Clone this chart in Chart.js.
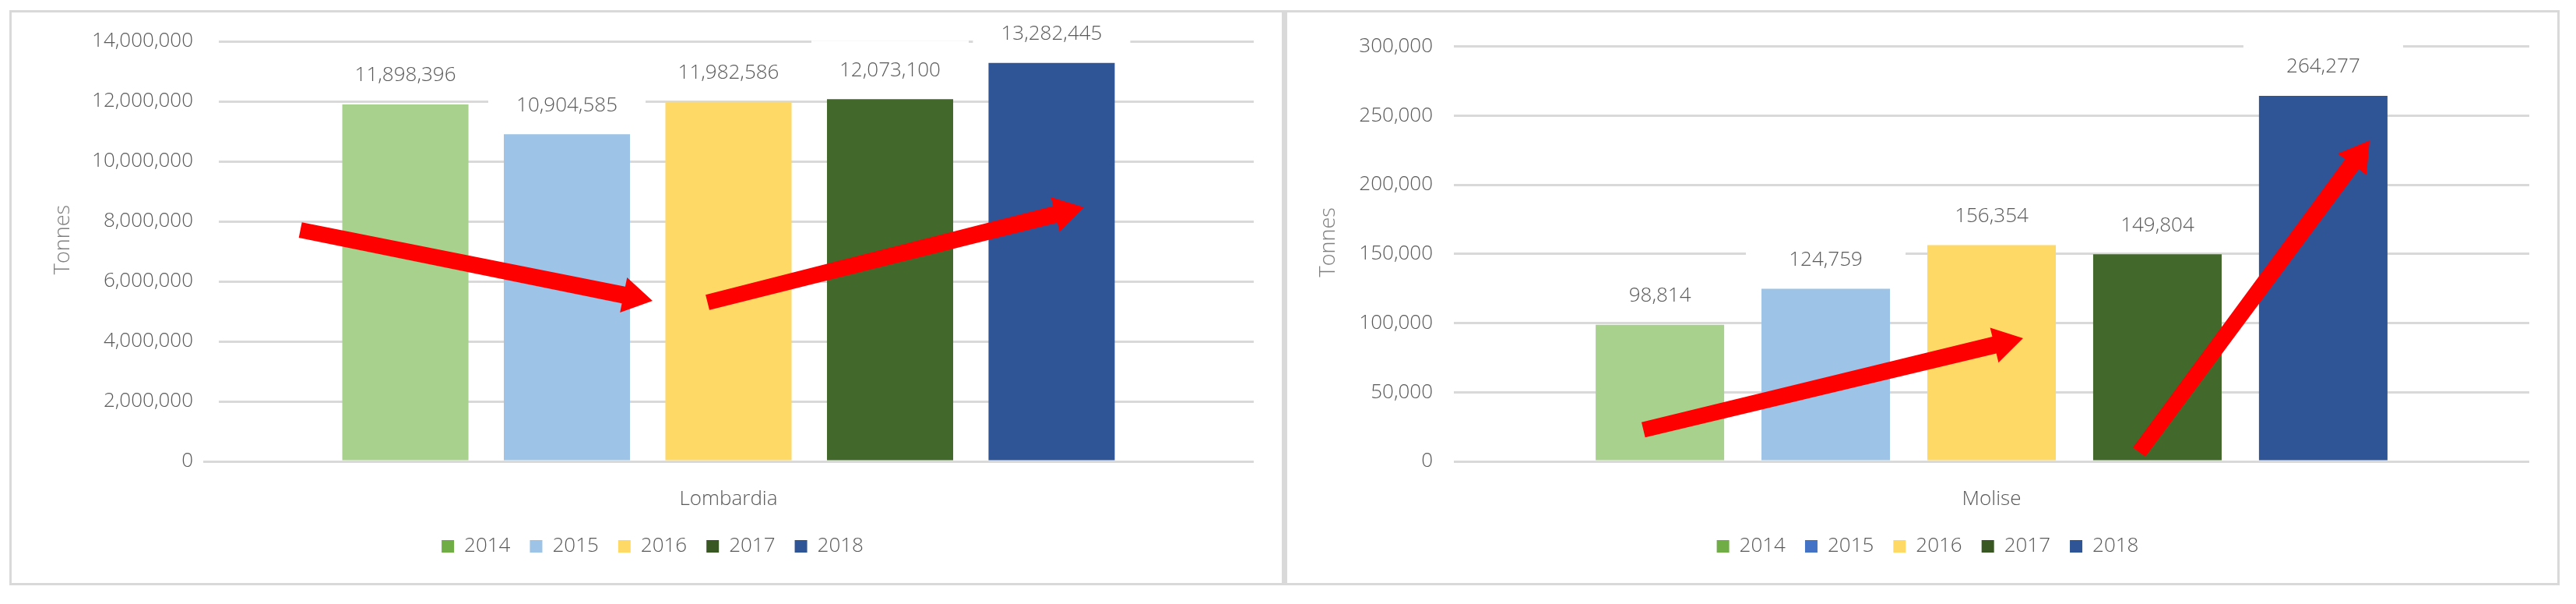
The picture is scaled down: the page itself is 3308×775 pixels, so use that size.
<!DOCTYPE html>
<html>
<head>
<meta charset="utf-8">
<script src="https://cdn.jsdelivr.net/npm/chart.js@4.4.1/dist/chart.umd.min.js"></script>
<style>
  html, body { margin: 0; padding: 0; background: #fff; }
  body { width: 3308px; height: 775px; position: relative; overflow: hidden; }
  .panel { position: absolute; box-sizing: border-box; border: 3px solid #d9d9d9; background: #fff; }
  #p1 { left: 12px; top: 13px; width: 1636px; height: 738px; border-right-width: 2px; }
  #p2 { left: 1647px; top: 13px; width: 1640px; height: 738px; border-left-width: 6px; }
  canvas { position: absolute; }
  #c1 { left: 16px; top: 17px; }
  #c2 { left: 1653px; top: 17px; }
</style>
</head>
<body>
<div class="panel" id="p1"></div>
<div class="panel" id="p2"></div>
<canvas id="c1" width="1628" height="730"></canvas>
<canvas id="c2" width="1631" height="730"></canvas>
<script>
const years = ['2014', '2015', '2016', '2017', '2018'];
const barColors = ['#A9D18E', '#9DC3E6', '#FFD966', '#43682B', '#2F5597'];

const lombardiaValues = [11898396, 10904585, 11982586, 12073100, 13282445];
const lombardiaTicks = [0, 2000000, 4000000, 6000000, 8000000, 10000000, 12000000, 14000000];
const lombardiaLegend = ['#70AD47', '#9DC3E6', '#FFD966', '#385723', '#2F5597'];
// red arrows: [from bar index, from value, to bar index, to value]
const lombardiaArrows = [
  [-0.65, 7710000, 1.53, 5350000],
  [1.87, 5300000, 4.2, 8470000]
];

const moliseValues = [98814, 124759, 156354, 149804, 264277];
const moliseTicks = [0, 50000, 100000, 150000, 200000, 250000, 300000];
const moliseLegend = ['#70AD47', '#4472C4', '#FFD966', '#385723', '#2F5597'];
const moliseArrows = [
  [-0.1, 22800, 2.19, 89100],
  [2.89, 6700, 4.28, 232000]
];

Chart.defaults.font.family = '"Open Sans", sans-serif';
Chart.defaults.font.weight = 300;

function drawArrow(ctx, x1, y1, x2, y2) {
  const ang = Math.atan2(y2 - y1, x2 - x1);
  const len = Math.hypot(x2 - x1, y2 - y1);
  ctx.save();
  ctx.translate(x1, y1);
  ctx.rotate(ang);
  ctx.beginPath();
  ctx.moveTo(0, -10);
  ctx.lineTo(len - 38, -11);
  ctx.lineTo(len - 38, -23);
  ctx.lineTo(len, 0);
  ctx.lineTo(len - 38, 23);
  ctx.lineTo(len - 38, 11);
  ctx.lineTo(0, 10);
  ctx.closePath();
  ctx.fillStyle = '#FF0000';
  ctx.fill();
  ctx.restore();
}

const gridMask = {
  id: 'gridMask',
  beforeDatasetsDraw(chart, args, opts) {
    if (!opts.width) return;
    const { left, top, bottom } = chart.chartArea;
    chart.ctx.fillStyle = '#fff';
    chart.ctx.fillRect(left, top - 3, opts.width, bottom - top);
  }
};

const valueLabels = {
  id: 'valueLabels',
  afterDatasetsDraw(chart) {
    const ctx = chart.ctx;
    ctx.save();
    ctx.font = '300 26px "Open Sans"';
    ctx.textAlign = 'center';
    ctx.textBaseline = 'middle';
    chart.data.datasets.forEach((ds, i) => {
      const bar = chart.getDatasetMeta(i).data[0];
      const cy = bar.y - 37;
      ctx.fillStyle = '#fff';
      ctx.fillRect(bar.x - bar.width / 2 - 20, cy - 38, bar.width + 40, 60);
      ctx.fillStyle = '#595959';
      ctx.fillText(ds.data[0].toLocaleString('en-US'), bar.x, cy);
    });
    ctx.restore();
  }
};

const trendArrows = {
  id: 'trendArrows',
  afterDraw(chart, args, opts) {
    const bars = chart.data.datasets.map((d, i) => chart.getDatasetMeta(i).data[0]);
    const x0 = bars[0].x;
    const pitch = bars[1].x - bars[0].x;
    const y = chart.scales.y;
    opts.list.forEach(a => {
      drawArrow(chart.ctx, x0 + a[0] * pitch, y.getPixelForValue(a[1]),
                x0 + a[2] * pitch, y.getPixelForValue(a[3]));
    });
  }
};

const axisTitle = {
  id: 'axisTitle',
  afterDraw(chart, args, opts) {
    const ctx = chart.ctx;
    const { top, bottom } = chart.chartArea;
    ctx.save();
    ctx.translate(opts.x, (top + bottom) / 2 - 15);
    ctx.rotate(-Math.PI / 2);
    ctx.font = '300 27px "Open Sans"';
    ctx.fillStyle = '#808080';
    ctx.textAlign = 'center';
    ctx.textBaseline = 'middle';
    ctx.fillText(opts.text, 0, 0);
    ctx.restore();
  }
};

function makeChart(canvasId, region, values, ticks, legendColors, arrows, cfg) {
  const datasets = years.map((y, i) => ({
    label: y,
    data: [values[i]],
    backgroundColor: barColors[i],
    borderWidth: 0,
    categoryPercentage: cfg.catPct,
    barPercentage: cfg.barPct
  }));

  return new Chart(document.getElementById(canvasId), {
    type: 'bar',
    data: { labels: [region], datasets: datasets },
    options: {
      responsive: false,
      animation: false,
      devicePixelRatio: 1,
      layout: { padding: { top: 36, right: cfg.right, bottom: 23, left: 50 } },
      scales: {
        x: {
          grid: { display: false },
          border: { display: false },
          ticks: { padding: 25, color: '#595959', font: { size: 26 } },
          afterFit: s => { s.height = 71; }
        },
        y: {
          min: ticks[0],
          max: ticks[ticks.length - 1],
          grid: { color: '#d9d9d9', lineWidth: 3, drawTicks: false },
          border: { display: false },
          afterBuildTicks: s => { s.ticks = ticks.map(v => ({ value: v })); },
          ticks: {
            padding: cfg.tickPad,
            color: '#595959',
            font: { size: 26 },
            callback: v => v.toLocaleString('en-US')
          },
          afterFit: s => { s.width = cfg.axisWidth; }
        }
      },
      plugins: {
        legend: {
          position: 'bottom',
          labels: {
            boxWidth: 16,
            boxHeight: 16,
            padding: 25,
            color: '#595959',
            font: { size: 26 },
            generateLabels: chart => chart.data.datasets.map((ds, i) => ({
              text: ds.label,
              fillStyle: legendColors[i],
              strokeStyle: legendColors[i],
              lineWidth: 0,
              hidden: false,
              datasetIndex: i,
              fontColor: '#595959'
            }))
          }
        },
        tooltip: { enabled: false },
        gridMask: { width: cfg.mask },
        trendArrows: { list: arrows },
        axisTitle: { text: 'Tonnes', x: cfg.titleX }
      }
    },
    plugins: [gridMask, valueLabels, trendArrows, axisTitle]
  });
}

makeChart('c1', 'Lombardia', lombardiaValues, lombardiaTicks, lombardiaLegend, lombardiaArrows,
  { catPct: 0.769, barPct: 0.781, right: 34, tickPad: 13, axisWidth: 195, mask: 20, titleX: 65 });

makeChart('c2', 'Molise', moliseValues, moliseTicks, moliseLegend, moliseArrows,
  { catPct: 0.771, barPct: 0.775, right: 36, tickPad: 27, axisWidth: 164, mask: 0, titleX: 53 });
</script>
</body>
</html>
